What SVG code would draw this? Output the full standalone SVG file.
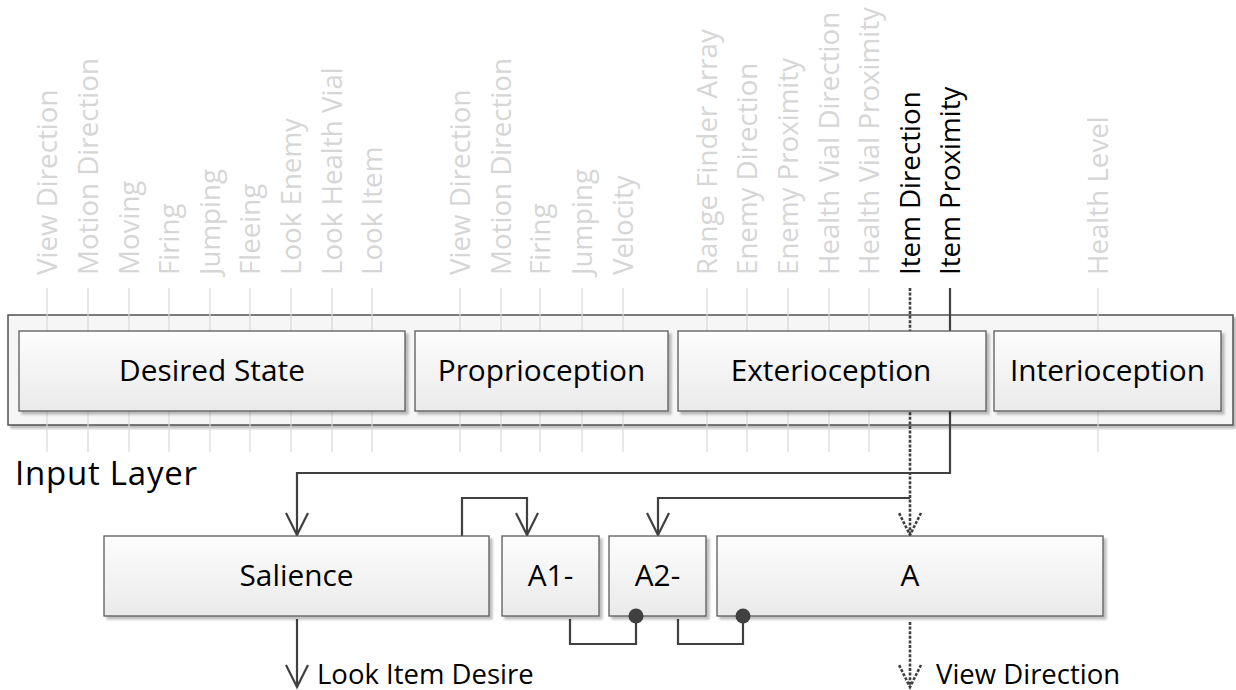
<svg xmlns="http://www.w3.org/2000/svg" width="1236" height="690" viewBox="0 0 1236 690">
  <defs>
    <linearGradient id="boxFill" x1="0" y1="0" x2="0" y2="1">
      <stop offset="0" stop-color="#fdfdfd"/>
      <stop offset="1" stop-color="#eaeaea"/>
    </linearGradient>
    <filter id="shadow" x="-5%" y="-5%" width="115%" height="125%">
      <feDropShadow dx="3" dy="3" stdDeviation="1" flood-color="#000" flood-opacity="0.25"/>
    </filter>
    <marker id="arrow" markerUnits="userSpaceOnUse" markerWidth="30" markerHeight="30" viewBox="-25 -15 30 30" refX="0" refY="0" orient="auto" overflow="visible">
      <path d="M-22,-11 L0,0 L-22,11" fill="none" stroke="#404040" stroke-width="2.2"/>
    </marker>
    <marker id="arrowDot" markerUnits="userSpaceOnUse" markerWidth="30" markerHeight="30" viewBox="-25 -15 30 30" refX="0" refY="0" orient="auto" overflow="visible">
      <path d="M-22,-11 L0,0 L-22,11" fill="none" stroke="#404040" stroke-width="2.6" stroke-dasharray="3 1.6"/>
    </marker>
  </defs>
  <style>
    .box { fill: url(#boxFill); stroke: #5a5a5a; stroke-width: 1.3; filter: url(#shadow); }
    .frame { fill: #f6f6f6; stroke: #505050; stroke-width: 1.5; filter: url(#shadow); }
    .lbl { font-family: "Open Sans", "Liberation Sans", sans-serif; font-size: 29.8px; fill: #000; text-anchor: middle; }
    .port { font-family: "Open Sans", "Liberation Sans", sans-serif; font-size: 27.7px; fill: #d6d6d6; }
    .port.on { fill: #000; }
    .stem { stroke: #d9d9d9; stroke-width: 1.2; }
    .wire { fill: none; stroke: #404040; stroke-width: 2.2; }
    .dotted { stroke-width: 2.6; stroke-dasharray: 3 1.6; }
    .free { font-family: "Open Sans", "Liberation Sans", sans-serif; fill: #000; }
  </style>

  <rect width="1236" height="690" fill="#fff"/>

  <!-- input layer container -->
  <g id="input-layer">
    <rect class="frame" x="8" y="315" width="1225" height="110"/>
    <text class="free" x="15" y="485" font-size="33" textLength="182">Input Layer</text>
  </g>

  <!-- input signal stems and their rotated names -->
  <g id="input-ports">
    <g class="stems">
      <line class="stem" x1="47" y1="288" x2="47" y2="452"/>
      <line class="stem" x1="88" y1="288" x2="88" y2="452"/>
      <line class="stem" x1="129" y1="288" x2="129" y2="452"/>
      <line class="stem" x1="169" y1="288" x2="169" y2="452"/>
      <line class="stem" x1="210" y1="288" x2="210" y2="452"/>
      <line class="stem" x1="250" y1="288" x2="250" y2="452"/>
      <line class="stem" x1="291" y1="288" x2="291" y2="452"/>
      <line class="stem" x1="332" y1="288" x2="332" y2="452"/>
      <line class="stem" x1="372" y1="288" x2="372" y2="452"/>
      <line class="stem" x1="460" y1="288" x2="460" y2="452"/>
      <line class="stem" x1="501" y1="288" x2="501" y2="452"/>
      <line class="stem" x1="540" y1="288" x2="540" y2="452"/>
      <line class="stem" x1="582" y1="288" x2="582" y2="452"/>
      <line class="stem" x1="623" y1="288" x2="623" y2="452"/>
      <line class="stem" x1="707" y1="288" x2="707" y2="452"/>
      <line class="stem" x1="747" y1="288" x2="747" y2="452"/>
      <line class="stem" x1="788" y1="288" x2="788" y2="452"/>
      <line class="stem" x1="829" y1="288" x2="829" y2="452"/>
      <line class="stem" x1="869" y1="288" x2="869" y2="452"/>
      <line class="stem" x1="1098" y1="288" x2="1098" y2="452"/>
    </g>
    <text class="port" transform="translate(57,275) rotate(-90)">View Direction</text>
    <text class="port" transform="translate(98,275) rotate(-90)">Motion Direction</text>
    <text class="port" transform="translate(139,275) rotate(-90)">Moving</text>
    <text class="port" transform="translate(179,275) rotate(-90)">Firing</text>
    <text class="port" transform="translate(220,275) rotate(-90)">Jumping</text>
    <text class="port" transform="translate(260,275) rotate(-90)">Fleeing</text>
    <text class="port" transform="translate(301,275) rotate(-90)">Look Enemy</text>
    <text class="port" transform="translate(342,275) rotate(-90)">Look Health Vial</text>
    <text class="port" transform="translate(382,275) rotate(-90)">Look Item</text>
    <text class="port" transform="translate(470,275) rotate(-90)">View Direction</text>
    <text class="port" transform="translate(511,275) rotate(-90)">Motion Direction</text>
    <text class="port" transform="translate(550,275) rotate(-90)">Firing</text>
    <text class="port" transform="translate(592,275) rotate(-90)">Jumping</text>
    <text class="port" transform="translate(633,275) rotate(-90)">Velocity</text>
    <text class="port" transform="translate(717,275) rotate(-90)">Range Finder Array</text>
    <text class="port" transform="translate(757,275) rotate(-90)">Enemy Direction</text>
    <text class="port" transform="translate(798,275) rotate(-90)">Enemy Proximity</text>
    <text class="port" transform="translate(839,275) rotate(-90)">Health Vial Direction</text>
    <text class="port" transform="translate(879,275) rotate(-90)">Health Vial Proximity</text>
    <text class="port on" transform="translate(920,275) rotate(-90)">Item Direction</text>
    <text class="port on" transform="translate(960,275) rotate(-90)">Item Proximity</text>
    <text class="port" transform="translate(1108,275) rotate(-90)">Health Level</text>
  </g>

  <!-- connectors (drawn beneath the group boxes they pass behind) -->
  <g id="connectors">
    <path class="wire" d="M950,288 V473 H297 V535" marker-end="url(#arrow)"/>
    <path class="wire dotted" d="M910,288 V535" marker-end="url(#arrowDot)"/>
    <path class="wire" d="M910,498 H658 V535" marker-end="url(#arrow)"/>
    <path class="wire" d="M462,536 V498 H527 V535" marker-end="url(#arrow)"/>
    <path class="wire" d="M297,619 V687" marker-end="url(#arrow)"/>
    <path class="wire dotted" d="M910,622 V687" marker-end="url(#arrowDot)"/>
    <path class="wire" d="M570,619 V644 H636 V616"/>
    <path class="wire" d="M678,619 V644 H743 V616"/>
  </g>

  <!-- input groups -->
  <g id="desired-state">
    <rect class="box" x="19" y="331" width="386" height="80"/>
    <text class="lbl" x="212" y="381">Desired State</text>
  </g>
  <g id="proprioception">
    <rect class="box" x="415" y="331" width="253" height="80"/>
    <text class="lbl" x="541.5" y="381">Proprioception</text>
  </g>
  <g id="exterioception">
    <rect class="box" x="678" y="331" width="308" height="80"/>
    <text class="lbl" x="831" y="381">Exterioception</text>
  </g>
  <g id="interioception">
    <rect class="box" x="994" y="331" width="227" height="80"/>
    <text class="lbl" x="1107.5" y="381">Interioception</text>
  </g>

  <!-- processing units -->
  <g id="salience">
    <rect class="box" x="104" y="536" width="385" height="80"/>
    <text class="lbl" x="296.5" y="586">Salience</text>
  </g>
  <g id="a1">
    <rect class="box" x="502" y="536" width="97" height="80"/>
    <text class="lbl" x="550.5" y="586">A1-</text>
  </g>
  <g id="a2">
    <rect class="box" x="609" y="536" width="97" height="80"/>
    <text class="lbl" x="657.5" y="586">A2-</text>
  </g>
  <g id="a">
    <rect class="box" x="717" y="536" width="386" height="80"/>
    <text class="lbl" x="910" y="586">A</text>
  </g>

  <!-- output names -->
  <g id="outputs">
    <text class="free" x="317" y="684" font-size="27.5">Look Item Desire</text>
    <text class="free" x="936" y="684" font-size="27.5">View Direction</text>
  </g>

  <!-- inhibitory end dots sit over the unit edges -->
  <g id="inhibit-dots">
    <circle cx="636" cy="616" r="7.5" fill="#404040"/>
    <circle cx="743" cy="616" r="7.5" fill="#404040"/>
  </g>
</svg>
